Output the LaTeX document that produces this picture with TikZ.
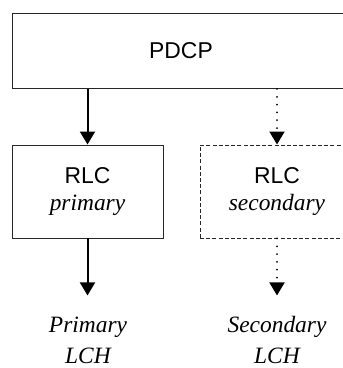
\documentclass[tikz,border=0pt]{standalone}
\usepackage{fontspec}
\setmainfont{Liberation Sans}
\newfontfamily\serifit{Liberation Serif}
\usetikzlibrary{arrows.meta,positioning}
\tikzset{
  layer/.style={draw=black!85,line width=0.9bp,rectangle,inner sep=0pt,align=center,
    font=\fontsize{23}{27}\selectfont},
  chan/.style={align=center,inner sep=0pt,font=\fontsize{23.5}{31}\selectfont\serifit\itshape},
  flow/.style={line width=2bp,-{Triangle[width=15bp,length=13bp]}},
  dotflow/.style={flow,line cap=round,dash pattern=on 0.01bp off 7.8bp}
}
\begin{document}
\begin{tikzpicture}[x=1bp,y=-1bp]
\useasboundingbox (0,0) rectangle (343,368);
% layers
\node[layer,minimum width=338bp,minimum height=75bp] (pdcp) at (181,51) {PDCP};
\node[layer,minimum width=151bp,minimum height=93bp] (prim) at (87.5,191.5)
  {RLC\\{\fontsize{23.5}{27}\selectfont\serifit\itshape primary}};
\node[layer,dash pattern=on 4bp off 2.2bp,minimum width=154bp,minimum height=93bp] (sec) at (277,191.5)
  {RLC\\{\fontsize{23.5}{27}\selectfont\serifit\itshape secondary}};
% logical channels
\coordinate[below=57bp of prim] (pend);
\coordinate[below=57bp of sec] (send);
\node[chan] (plch) at (88,340) {Primary\\LCH};
\node[chan] (slch) at (277,340) {Secondary\\LCH};
% arrows
\draw[flow] (pdcp.south -| prim) -- (prim.north);
\draw[dotflow] (pdcp.south -| sec) -- (sec.north);
\draw[flow] (prim.south) -- (pend);
\draw[dotflow] (sec.south) -- (send);
\end{tikzpicture}
\end{document}
